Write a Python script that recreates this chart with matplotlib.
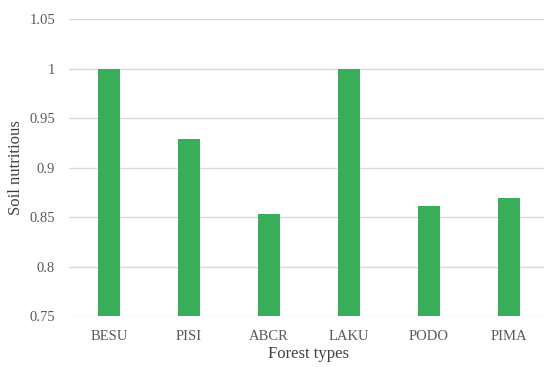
import matplotlib
matplotlib.use("Agg")
import matplotlib.pyplot as plt

categories = ["BESU", "PISI", "ABCR", "LAKU", "PODO", "PIMA"]
values = [1.0, 0.929, 0.853, 1.0, 0.861, 0.869]
yticks = [0.75, 0.8, 0.85, 0.9, 0.95, 1.0, 1.05]
ytick_labels = ["0.75", "0.8", "0.85", "0.9", "0.95", "1", "1.05"]

plt.rcParams['font.family'] = ['Liberation Serif', 'DejaVu Serif']

fig = plt.figure(figsize=(5.44, 3.67), dpi=100)
ax = fig.add_axes([69/544, 1-316/367, 480/544, 297/367])

x = list(range(len(categories)))
ax.bar(x, values, width=0.27, color="#38ad5a", zorder=3, bottom=0)
ax.set_xlim(-0.5, len(categories)-0.5)
ax.set_ylim(0.75, 1.05)
ax.set_yticks(yticks)
ax.set_yticklabels(ytick_labels)
ax.set_xticks(x)
ax.set_xticklabels(categories)
ax.yaxis.grid(True, color="#d9d9d9", linewidth=1, zorder=0)
for s in ax.spines.values():
    s.set_visible(False)
ax.tick_params(axis='both', length=0, colors="#595959", labelsize=10.5)
ax.tick_params(axis='y', pad=10)
ax.tick_params(axis='x', pad=10)
ax.set_xlabel("Forest types", fontsize=12, color="#404040", labelpad=2)
ax.set_ylabel("Soil nutritious", fontsize=12, color="#404040", labelpad=4)

fig.savefig("out.png", dpi=100)
